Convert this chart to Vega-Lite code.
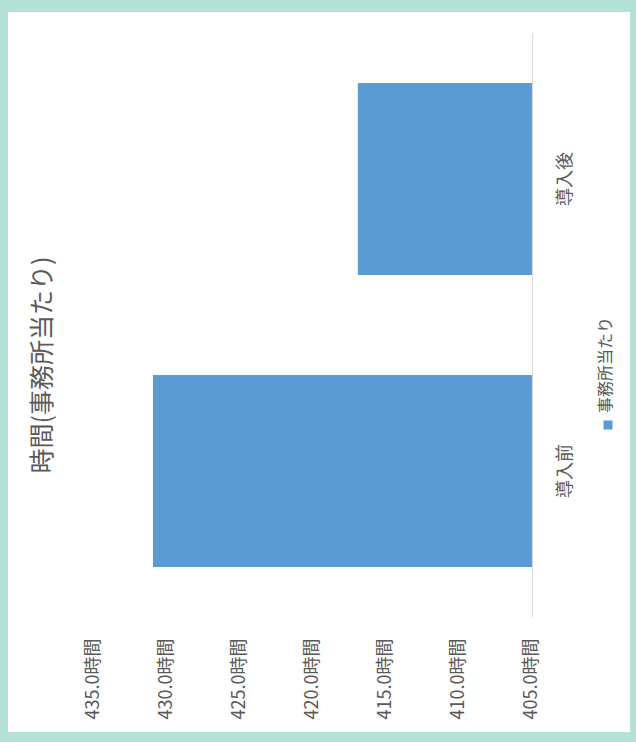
{
  "$schema": "https://vega.github.io/schema/vega-lite/v6.json",
  "width": 622,
  "height": 720,
  "autosize": {"type": "none"},
  "padding": {"left": 8, "top": 12, "right": 6, "bottom": 10},
  "background": "#b4e2d6",
  "config": {"view": {"fill": "white", "stroke": null}, "font": "Noto Sans CJK JP"},
  "title": {"text": "時間(事務所当たり)", "orient": "left", "anchor": "middle", "fontSize": 25, "fontWeight": "normal", "color": "#595959", "offset": -60, "baseline": "middle", "dx": 7, "font": "Noto Sans CJK JP"},
  "data": {"values": [
    {"category": "導入前", "series": "事務所当たり", "value": 430.9},
    {"category": "導入後", "series": "事務所当たり", "value": 416.9}
  ]},
  "mark": {"type": "bar"},
  "encoding": {
    "y": {"field": "category", "type": "nominal", "sort": ["導入後", "導入前"],
      "scale": {"range": [21, 605], "paddingInner": 0.342, "paddingOuter": 0.171},
      "axis": {"orient": "right", "offset": -98, "title": null, "ticks": false, "tickSize": 0, "domainColor": "#d9d9d9", "labelAngle": -90, "labelAlign": "center", "labelBaseline": "middle", "labelPadding": 33, "labelFontSize": 18, "labelColor": "#595959", "grid": false}},
    "x": {"field": "value", "type": "quantitative",
      "scale": {"domain": [398.3, 440.81], "reverse": true, "nice": false, "zero": false},
      "axis": {"orient": "bottom", "offset": -94, "title": null, "values": [405, 410, 415, 420, 425, 430, 435], "labelExpr": "format(datum.value, '.1f') + '時間'", "domain": false, "ticks": false, "tickSize": 0, "grid": false, "labelAngle": -90, "labelAlign": "right", "labelBaseline": "middle", "labelPadding": 0, "labelFontSize": 18, "labelColor": "#595959", "labelFlush": false}},
    "x2": {"datum": 405},
    "color": {"field": "series", "type": "nominal", "scale": {"range": ["#5b9bd5"]},
      "legend": {"orient": "none", "legendX": 592, "legendY": 405, "title": null, "symbolType": "square", "symbolSize": 81, "symbolStrokeWidth": 0, "labelFontSize": 16, "labelColor": "#595959", "labelOffset": -10, "padding": 0,
        "encode": {"labels": {"update": {"angle": {"value": -90}, "dx": {"value": 12}}}}}}
  }
}
